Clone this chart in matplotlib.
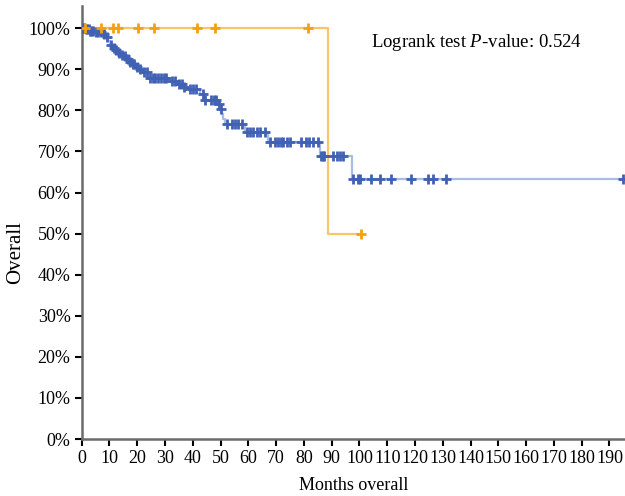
import numpy as np
import matplotlib
matplotlib.use("Agg")
import matplotlib.pyplot as plt
from matplotlib.ticker import FuncFormatter

plt.rcParams['font.family'] = ['Liberation Serif', 'DejaVu Serif']
plt.rcParams['mathtext.fontset'] = 'custom'
plt.rcParams['mathtext.rm'] = 'Liberation Serif'
plt.rcParams['mathtext.it'] = 'Liberation Serif:italic'

# Kaplan-Meier steps (months, survival %) for each group
blue_times = [0, 1.5, 3.0, 5.0, 7.7, 8.6, 9.5, 10.2, 11.0, 12.0, 13.2, 14.2, 15.0,
              16.0, 17.0, 18.2, 19.5, 20.5, 22.0, 24.0, 31.0, 34.5, 36.5, 38.0,
              42.6, 44.0, 49.0, 49.8, 50.4, 51.0, 51.5, 58.8, 67.2, 85.8, 97.3]
blue_surv = [100, 99.7, 99.4, 99.1, 98.5, 97.8, 97.0, 96.0, 95.3, 94.7, 94.1, 93.6, 93.2,
             92.5, 91.8, 91.2, 90.6, 90.0, 89.3, 88.0, 87.2, 86.4, 85.8, 85.1,
             84.0, 82.5, 81.5, 80.3, 79.2, 78.0, 76.8, 74.8, 72.4, 68.9, 63.3]
blue_censored = [0.5, 1, 1.5, 2, 2.5, 3, 3.5, 4, 5, 6, 7, 8, 9, 10.5, 11.5, 12.5, 13.5,
                 14.5, 15.5, 16.5, 17.5, 18.5, 19, 20, 21, 22.5, 23.5, 24.5, 25.5,
                 26.5, 27.5, 28.5, 29.5, 30.5, 32.5, 33.5, 35, 36, 37, 39, 40, 41,
                 43.5, 44.5, 46.5, 47.5, 48.5, 49.5, 50, 52.2, 54.0, 55.2, 56.4, 57.6,
                 59.4, 60.6, 61.8, 63.0, 64.2, 66.0, 67.8, 69.6, 70.8, 71.6, 72.6,
                 73.8, 75.0, 79.1, 80.9, 81.9, 83.3, 85.2, 86.3, 86.9, 87.3, 90.6,
                 91.8, 93.0, 94.2, 97.5, 99.5, 100.2, 104.2, 107.5, 111.5, 118.5,
                 124.6, 126.4, 131.2, 195.0]

orange_times = [0, 88.6]
orange_surv = [100, 50]
orange_censored = [1.2, 6.9, 11.4, 13.2, 20.4, 26.1, 41.4, 48.0, 81.4, 100.7]

pvalue_text = "Logrank test $P$-value: 0.524"

blue_line, blue_mark = "#a7bde6", "#4061b4"
orange_line, orange_mark = "#f9c46a", "#f5a011"


def step_at(times, surv, t):
    idx = np.searchsorted(times, t, side="right") - 1
    return np.asarray(surv)[idx]


fig = plt.figure(figsize=(6.25, 4.96), dpi=100)
ax = fig.add_axes([0.1307, 0.1149, 0.8693, 0.872])

for times, surv, cens, lc, mc in [
    (blue_times, blue_surv, blue_censored, blue_line, blue_mark),
    (orange_times, orange_surv, orange_censored, orange_line, orange_mark),
]:
    t_end = max(cens)
    xs = list(times) + [t_end]
    ys = list(surv) + [surv[-1]]
    ax.step(xs, ys, where="post", color=lc, lw=1.6, zorder=2)
    ax.plot(cens, step_at(times, surv, cens), ls="none", marker="+",
            ms=6.5, mew=2.0, color=mc, zorder=3)

ax.set_xlim(0, 195.6)
ax.set_ylim(0, 105.3)
ax.set_xticks(np.arange(0, 200, 10))
ax.set_yticks(np.arange(0, 101, 10))
ax.yaxis.set_major_formatter(FuncFormatter(lambda v, p: f"{int(v)}%"))

for s in ["top", "right"]:
    ax.spines[s].set_visible(False)
for s in ["left", "bottom"]:
    ax.spines[s].set_color("#6b6b6b")
    ax.spines[s].set_linewidth(1.8)
ax.tick_params(direction="out", length=5, width=1.5, color="black",
               labelsize=13, pad=3)

ax.set_ylabel("Overall", fontsize=15, labelpad=4)
ax.yaxis.set_label_coords(-0.105, 0.43)
ax.set_xlabel("Months overall", fontsize=13, labelpad=7)

ax.text(104, 96.5, pvalue_text, fontsize=13.5, va="center", ha="left")

fig.savefig("out.png", dpi=100)
